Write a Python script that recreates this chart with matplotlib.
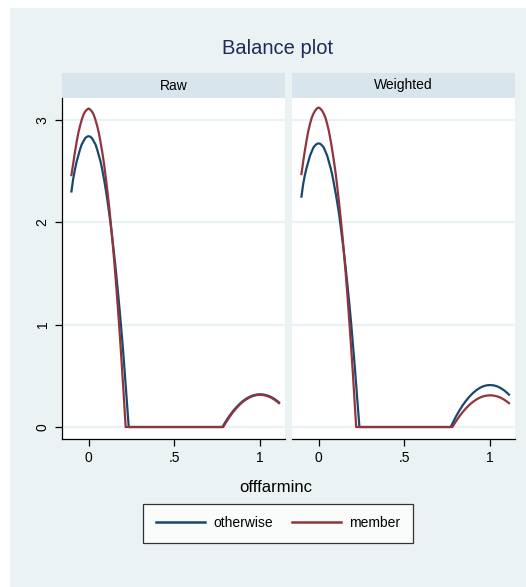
import matplotlib as mpl
import matplotlib.pyplot as plt
from matplotlib.patches import Rectangle
from matplotlib.lines import Line2D

mpl.rcParams.update({
    "font.family": ["Liberation Sans Narrow", "Liberation Sans", "DejaVu Sans"],
    "text.color": "#000000",
})

# kernel density of offfarminc by group, raw and weighted samples
# mass around offfarminc = 0
x_low = [-0.10, -0.09, -0.08, -0.07, -0.06, -0.05, -0.04, -0.03, -0.02, -0.01,
         0.00, 0.01, 0.02, 0.03, 0.04, 0.05, 0.06, 0.07, 0.08, 0.09,
         0.10, 0.11, 0.12, 0.13, 0.14, 0.15, 0.16, 0.17, 0.18, 0.19,
         0.20, 0.21]
raw_otherwise_low = [2.30, 2.42, 2.51, 2.59, 2.65, 2.71, 2.76, 2.79, 2.82, 2.835,
                     2.84, 2.835, 2.82, 2.79, 2.76, 2.71, 2.65, 2.59, 2.51, 2.42,
                     2.32, 2.21, 2.09, 1.96, 1.82, 1.67, 1.51, 1.34, 1.16, 0.97,
                     0.77, 0.55]
raw_member_low = [2.46, 2.57, 2.68, 2.78, 2.87, 2.94, 3.00, 3.05, 3.08, 3.10,
                  3.11, 3.10, 3.08, 3.05, 3.00, 2.94, 2.87, 2.78, 2.68, 2.57,
                  2.44, 2.30, 2.15, 1.98, 1.80, 1.61, 1.40, 1.18, 0.95, 0.70,
                  0.44, 0.17]
wtd_otherwise_low = [2.25, 2.37, 2.46, 2.53, 2.59, 2.65, 2.69, 2.73, 2.75, 2.765,
                     2.77, 2.765, 2.75, 2.73, 2.69, 2.65, 2.59, 2.53, 2.46, 2.37,
                     2.28, 2.18, 2.07, 1.94, 1.81, 1.67, 1.52, 1.36, 1.19, 1.01,
                     0.81, 0.61]
wtd_member_low = [2.47, 2.59, 2.70, 2.80, 2.89, 2.96, 3.02, 3.06, 3.09, 3.11,
                  3.12, 3.11, 3.09, 3.06, 3.02, 2.96, 2.89, 2.80, 2.70, 2.59,
                  2.47, 2.33, 2.18, 2.02, 1.85, 1.66, 1.46, 1.24, 1.01, 0.77,
                  0.52, 0.25]

# where each density reaches zero and where it leaves zero again
zero_start = {"raw_otherwise": 0.234, "raw_member": 0.216,
              "wtd_otherwise": 0.238, "wtd_member": 0.219}
zero_end = {"raw_otherwise": 0.78, "raw_member": 0.785,
            "wtd_otherwise": 0.77, "wtd_member": 0.78}

# mass around offfarminc = 1
x_high = [0.80, 0.82, 0.84, 0.86, 0.88, 0.90, 0.92, 0.94, 0.96, 0.98,
          1.00, 1.02, 1.04, 1.06, 1.08, 1.10, 1.11]
raw_otherwise_high = [0.056, 0.106, 0.151, 0.190, 0.225, 0.254, 0.278, 0.296, 0.309, 0.317,
                      0.320, 0.317, 0.309, 0.296, 0.278, 0.254, 0.240]
raw_member_high = [0.042, 0.094, 0.141, 0.181, 0.217, 0.247, 0.271, 0.290, 0.304, 0.312,
                   0.315, 0.312, 0.304, 0.290, 0.271, 0.247, 0.233]
wtd_otherwise_high = [0.100, 0.159, 0.212, 0.258, 0.298, 0.332, 0.360, 0.382, 0.398, 0.407,
                      0.410, 0.407, 0.398, 0.382, 0.360, 0.332, 0.316]
wtd_member_high = [0.054, 0.103, 0.146, 0.184, 0.218, 0.246, 0.269, 0.287, 0.300, 0.307,
                   0.310, 0.307, 0.300, 0.287, 0.269, 0.246, 0.233]

panels = ["Raw", "Weighted"]
groups = ["otherwise", "member"]
colors = {"otherwise": "#1a476f", "member": "#90353b"}

series = {
    ("Raw", "otherwise"): (raw_otherwise_low, raw_otherwise_high, "raw_otherwise"),
    ("Raw", "member"): (raw_member_low, raw_member_high, "raw_member"),
    ("Weighted", "otherwise"): (wtd_otherwise_low, wtd_otherwise_high, "wtd_otherwise"),
    ("Weighted", "member"): (wtd_member_low, wtd_member_high, "wtd_member"),
}

W, H = 526, 587
BG = "#eaf2f3"
STRIP = "#d9e5ec"
GRID = "#eaf2f3"

fig = plt.figure(figsize=(W / 100, H / 100), dpi=100)
fig.patch.set_facecolor("white")
fig.add_artist(Rectangle((10 / W, 0), 1 - 10 / W, 1 - 8 / H,
                         transform=fig.transFigure, facecolor=BG,
                         edgecolor="none", zorder=-10))


def box(x0, y0, x1, y1):
    return [x0 / W, 1 - y1 / H, (x1 - x0) / W, (y1 - y0) / H]


fig.text(278 / W, 1 - 49 / H, "Balance plot", ha="center", va="center",
         fontsize=14.5, color="#1c2b5a")

panel_x = {"Raw": (62, 285), "Weighted": (292, 515)}
top, bottom = 98, 439

for i, panel in enumerate(panels):
    x0, x1 = panel_x[panel]
    strip = fig.add_axes(box(x0, 73, x1, top))
    strip.set_facecolor(STRIP)
    strip.set_xticks([])
    strip.set_yticks([])
    for s in strip.spines.values():
        s.set_visible(False)
    strip.text(0.5, 0.5, panel, ha="center", va="center", fontsize=10,
               transform=strip.transAxes)

    ax = fig.add_axes(box(x0, top, x1, bottom))
    ax.set_facecolor("white")
    ax.set_xlim(-0.155, 1.145)
    ax.set_ylim(-0.117, 3.213)
    ax.set_yticks([0, 1, 2, 3])
    ax.set_xticks([0, 0.5, 1])
    ax.set_xticklabels(["0", ".5", "1"], fontsize=10)
    ax.grid(axis="y", color=GRID, linewidth=1.6)
    ax.set_axisbelow(True)
    for side in ["top", "right"]:
        ax.spines[side].set_visible(False)
    ax.spines["bottom"].set_linewidth(0.9)
    ax.tick_params(axis="x", length=5, width=0.9, pad=4)
    if i == 0:
        ax.spines["left"].set_linewidth(0.9)
        ax.set_yticklabels(["0", "1", "2", "3"], fontsize=10, rotation=90,
                           va="center")
        ax.tick_params(axis="y", length=5, width=0.9, pad=4)
    else:
        ax.spines["left"].set_visible(False)
        ax.tick_params(axis="y", length=0, labelleft=False)

    for g in groups:
        low, high, key = series[(panel, g)]
        xs = x_low + [zero_start[key], zero_end[key]] + x_high
        ys = low + [0.0, 0.0] + high
        ax.plot(xs, ys, color=colors[g], linewidth=1.6, solid_joinstyle="round")

fig.text(276 / W, 1 - 488 / H, "offfarminc", ha="center", va="center",
         fontsize=12)

handles = [Line2D([], [], color=colors[g], linewidth=1.8) for g in groups]
leg = fig.legend(handles, groups, loc="center",
                 bbox_to_anchor=(278 / W, 1 - 523 / H), ncol=2, fontsize=10,
                 frameon=True, fancybox=False, handlelength=3.5,
                 columnspacing=1.4, handletextpad=0.6, borderpad=0.9)
leg.get_frame().set_edgecolor("black")
leg.get_frame().set_linewidth(0.9)

fig.savefig("out.png", dpi=100)
